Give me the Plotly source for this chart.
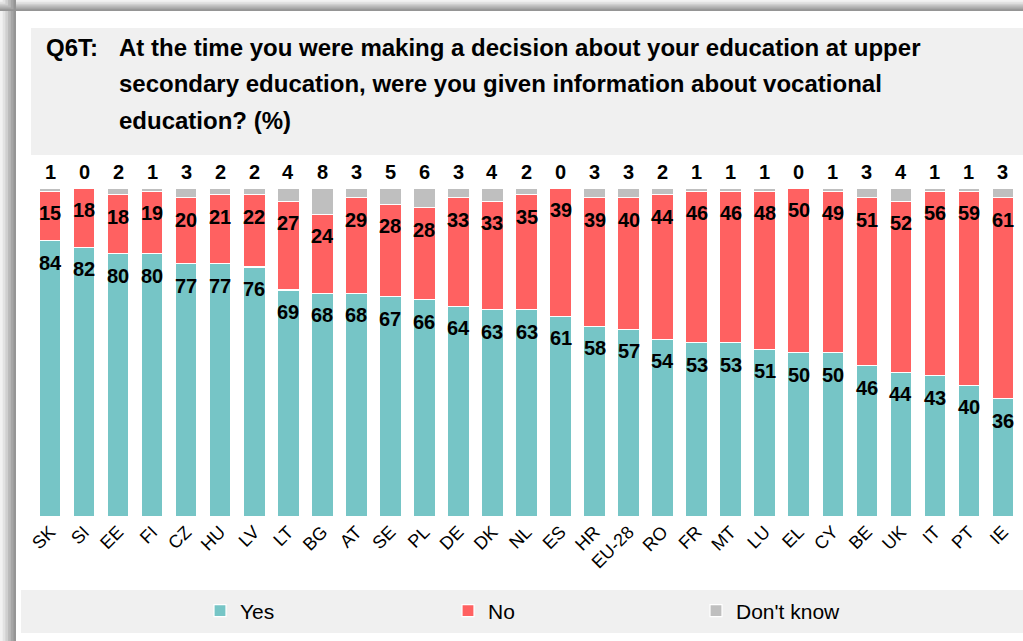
import plotly.graph_objects as go

countries = ["SK", "SI", "EE", "FI", "CZ", "HU", "LV", "LT", "BG", "AT", "SE", "PL", "DE", "DK",
             "NL", "ES", "HR", "EU-28", "RO", "FR", "MT", "LU", "EL", "CY", "BE", "UK", "IT", "PT", "IE"]
yes_vals = [84, 82, 80, 80, 77, 77, 76, 69, 68, 68, 67, 66, 64, 63, 63, 61, 58, 57, 54, 53, 53, 51, 50, 50, 46, 44, 43, 40, 36]
no_vals = [15, 18, 18, 19, 20, 21, 22, 27, 24, 29, 28, 28, 33, 33, 35, 39, 39, 40, 44, 46, 46, 48, 50, 49, 51, 52, 56, 59, 61]
dk_vals = [1, 0, 2, 1, 3, 2, 2, 4, 8, 3, 5, 6, 3, 4, 2, 0, 3, 3, 2, 1, 1, 1, 0, 1, 3, 4, 1, 1, 3]

title_q = "Q6T:"
title_lines = ["At the time you were making a decision about your education at upper",
               "secondary education, were you given information about vocational",
               "education? (%)"]

C_YES = "#76C5C6"
C_NO = "#FF6161"
C_DK = "#BFBFBF"
FONT = "Arial, Liberation Sans, sans-serif"

W, H = 1023, 641
ML, MR, MT, MB = 33, 3, 188, 124
PW = W - ML - MR
PH = H - MT - MB


def px(x):
    return (x - ML) / PW


def py(y):
    return (H - MB - y) / PH


fig = go.Figure()
for name, vals, col in [("Yes", yes_vals, C_YES), ("No", no_vals, C_NO), ("Don't know", dk_vals, C_DK)]:
    fig.add_trace(go.Bar(x=countries, y=vals, name=name, marker=dict(color=col, line=dict(color="white", width=1.2)),
                         width=0.64, hoverinfo="x+y+name"))

LBL = dict(size=20, color="black", family=FONT)
annotations = []
for i, c in enumerate(countries):
    y1 = yes_vals[i]
    annotations.append(dict(x=c, y=y1, xref="x", yref="y", text=f"<b>{y1}</b>", showarrow=False,
                            yanchor="middle", yshift=-22, font=LBL))
    y2 = yes_vals[i] + no_vals[i]
    annotations.append(dict(x=c, y=y2, xref="x", yref="y", text=f"<b>{no_vals[i]}</b>", showarrow=False,
                            yanchor="middle", yshift=-22, font=LBL))
    annotations.append(dict(x=c, y=100, xref="x", yref="y", text=f"<b>{dk_vals[i]}</b>", showarrow=False,
                            yanchor="middle", yshift=16, font=LBL))

TFONT = dict(size=24, color="black", family=FONT)
annotations.append(dict(x=px(44), y=py(47), xref="paper", yref="paper", text=f"<b>{title_q}</b>", showarrow=False,
                        xanchor="left", yanchor="middle", font=TFONT))
for k, line in enumerate(title_lines):
    annotations.append(dict(x=px(117), y=py(47 + 36.5 * k), xref="paper", yref="paper", text=f"<b>{line}</b>",
                            showarrow=False, xanchor="left", yanchor="middle", font=TFONT))

shapes = []
# frame shadow (left & top)
grays = ["#f2f2f2", "#e2e2e2", "#cfcfcf", "#bababa", "#a6a6a6", "#959595"]
for k, g in enumerate(grays):
    shapes.append(dict(type="rect", xref="paper", yref="paper", x0=px(k * 2.7), x1=px(16), y0=py(H), y1=py(0),
                       fillcolor=g, line=dict(width=0), layer="below"))
    shapes.append(dict(type="rect", xref="paper", yref="paper", x0=px(0), x1=px(W), y0=py(11), y1=py(k * 1.85),
                       fillcolor=g, line=dict(width=0), layer="below"))
shapes.append(dict(type="rect", xref="paper", yref="paper", x0=px(16), x1=px(W), y0=py(H), y1=py(11),
                   fillcolor="white", line=dict(width=0), layer="below"))
# title box
shapes.append(dict(type="rect", xref="paper", yref="paper", x0=px(31), x1=px(W), y0=py(155), y1=py(28),
                   fillcolor="#F0F0F0", line=dict(width=0), layer="below"))
# legend box
shapes.append(dict(type="rect", xref="paper", yref="paper", x0=px(21), x1=px(W), y0=py(633), y1=py(590),
                   fillcolor="#F0F0F0", line=dict(width=0), layer="below"))

fig.update_layout(
    width=W, height=H,
    margin=dict(l=ML, r=MR, t=MT, b=MB),
    barmode="stack",
    paper_bgcolor="white",
    plot_bgcolor="rgba(0,0,0,0)",
    font=dict(family=FONT, color="black"),
    showlegend=True,
    legend=dict(orientation="h", xref="container", yref="container", x=200 / W, y=1 - 611 / H,
                xanchor="left", yanchor="middle", bgcolor="rgba(0,0,0,0)", entrywidth=203,
                entrywidthmode="pixels", font=dict(size=21, family=FONT, color="black"),
                traceorder="normal", itemclick=False, itemdoubleclick=False),
    xaxis=dict(type="category", range=[-0.5, len(countries) - 0.5], tickangle=-45, showline=False,
               showgrid=False, ticks="", tickfont=dict(size=18, family=FONT, color="black"), fixedrange=True),
    yaxis=dict(range=[0, 100], visible=False, showgrid=False, zeroline=False, fixedrange=True),
    annotations=annotations,
    shapes=shapes,
)

fig.write_html("out.html", config={"displayModeBar": False},
               post_script="document.body.style.margin='0';document.body.style.overflow='hidden';")
